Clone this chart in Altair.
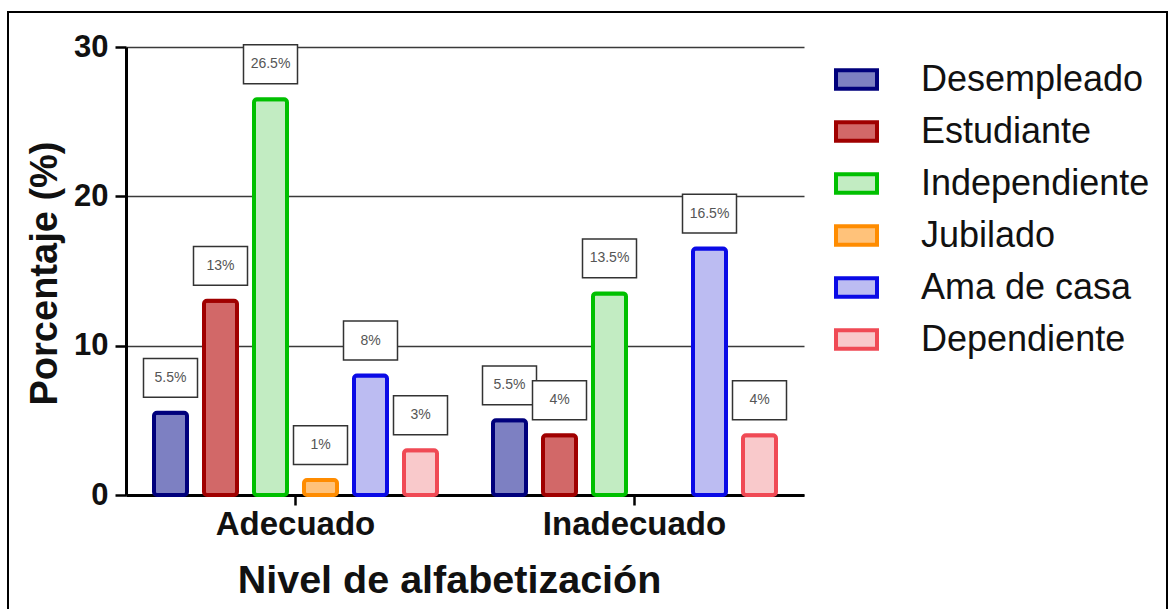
import altair as alt
import pandas as pd

categories = ["Adecuado", "Inadecuado"]
occupations = ["Desempleado", "Estudiante", "Independiente", "Jubilado", "Ama de casa", "Dependiente"]
values_adecuado = [5.5, 13, 26.5, 1, 8, 3]
values_inadecuado = [5, 4, 13.5, 0, 16.5, 4]
labels_adecuado = ["5.5%", "13%", "26.5%", "1%", "8%", "3%"]
labels_inadecuado = ["5.5%", "4%", "13.5%", "", "16.5%", "4%"]
fill_colors = ["#7d80c2", "#d26868", "#c2ecc2", "#ffc27a", "#bcbcf2", "#f9c9cb"]
stroke_colors = ["#00007c", "#a00000", "#00c000", "#ff8c00", "#0a0ae6", "#f04a55"]

rows = []
for cat, vals, labs in [("Adecuado", values_adecuado, labels_adecuado),
                        ("Inadecuado", values_inadecuado, labels_inadecuado)]:
    for occ, v, l in zip(occupations, vals, labs):
        rows.append({"nivel": cat, "ocupacion": occ, "valor": v, "etiqueta": l})
df = pd.DataFrame(rows)

FONT = "Liberation Sans"

x = alt.X("nivel:N", sort=categories,
          scale=alt.Scale(paddingInner=0, paddingOuter=0),
          axis=alt.Axis(title="Nivel de alfabetización", labelAngle=0, grid=False,
                        domainColor="black", domainWidth=3, tickColor="black",
                        tickWidth=2.5, tickSize=10, labelFont=FONT, labelFontSize=33,
                        labelFontWeight="bold", labelColor="#111", labelPadding=3,
                        labelLimit=0,
                        titleFont=FONT, titleFontSize=39.5, titleFontWeight="bold",
                        titleColor="#111", titleX=323, titleY=97,
                        titleBaseline="alphabetic", titleAlign="center"))
xoff = alt.XOffset("ocupacion:N", sort=occupations,
                   scale=alt.Scale(domain=occupations, paddingInner=0.34, paddingOuter=0.56))
y = alt.Y("valor:Q", scale=alt.Scale(domain=[0, 30], nice=False),
          axis=alt.Axis(title="Porcentaje (%)", values=[0, 10, 20, 30], format="d",
                        grid=True, gridColor="#3a3a3a", gridWidth=1.5,
                        domainColor="black", domainWidth=3, tickColor="black",
                        tickWidth=2.5, tickSize=11, labelFont=FONT, labelFontSize=31,
                        labelFontWeight="bold", labelColor="#111", labelPadding=7,
                        titleFont=FONT, titleFontSize=38, titleFontWeight="bold",
                        titleColor="#111", titleX=-70, titleY=226, titleAngle=270,
                        titleBaseline="alphabetic", titleAlign="center"))

legend_shape = "M-1,-0.45H1V0.45H-1Z"
leg = alt.Legend(title=None, orient="none", legendX=708, legendY=10,
                 symbolType=legend_shape, symbolSize=1681, symbolStrokeWidth=4,
                 labelFont=FONT, labelFontSize=36, labelColor="#111", labelLimit=0,
                 labelOffset=42, rowPadding=11, padding=0, symbolOpacity=1)

fill = alt.Fill("ocupacion:N", sort=occupations,
                scale=alt.Scale(domain=occupations, range=fill_colors), legend=leg)
stroke = alt.Stroke("ocupacion:N", sort=occupations,
                    scale=alt.Scale(domain=occupations, range=stroke_colors), legend=leg)

bars = alt.Chart(df).transform_filter("datum.valor > 0").mark_bar(
    strokeWidth=4, cornerRadius=3, opacity=1
).encode(x=x, xOffset=xoff, y=y, fill=fill, stroke=stroke)

boxes = alt.Chart(df).transform_filter("datum.etiqueta != ''").mark_point(
    shape="M-1,-0.72H1V0.72H-1Z", size=2916, filled=True, fill="white",
    stroke="#333333", strokeWidth=1.5, opacity=1, yOffset=-35
).encode(x=x, xOffset=xoff, y=y)

texts = alt.Chart(df).transform_filter("datum.etiqueta != ''").mark_text(
    yOffset=-35, fontSize=14, color="#555555", font=FONT, baseline="middle", align="center"
).encode(x=x, xOffset=xoff, y=y, text="etiqueta:N")

border = alt.Chart(pd.DataFrame({"k": [0]})).mark_rect(
    fillOpacity=0, stroke="black", strokeWidth=2
).encode(x=alt.value(-118), x2=alt.value(1041), y=alt.value(-35), y2=alt.value(570))

chart = alt.layer(border, bars, boxes, texts).properties(
    width=678, height=448,
    padding={"left": 126, "top": 47, "right": 367, "bottom": 114},
    autosize="none",
    background="white",
).configure_view(stroke=None)

chart.save("out.html", embed_options={"renderer": "svg", "actions": False})
